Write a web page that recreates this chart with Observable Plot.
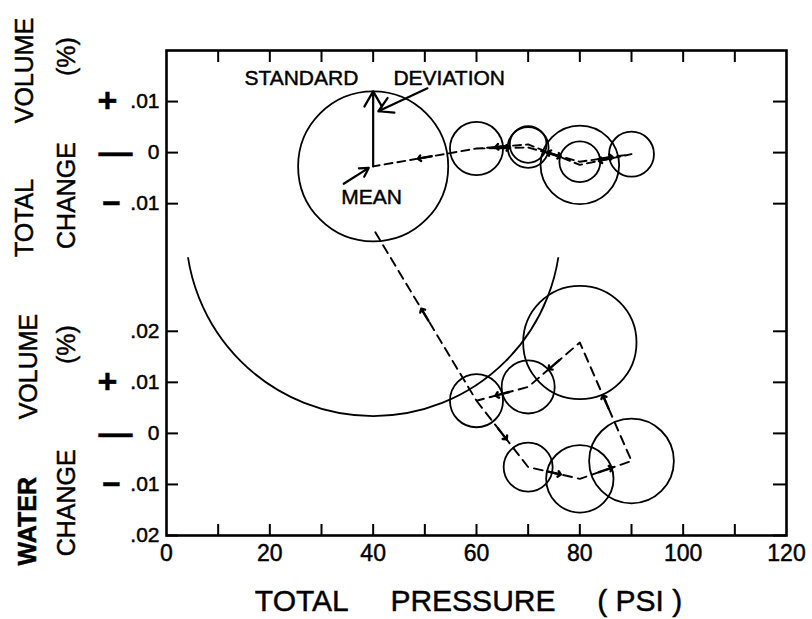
<!DOCTYPE html>
<html><head><meta charset="utf-8">
<script src="https://cdn.jsdelivr.net/npm/d3@7"></script>
<script src="https://cdn.jsdelivr.net/npm/@observablehq/plot@0.6"></script>
<style>
html,body{margin:0;padding:0;background:#fff;overflow:hidden;}
#chart svg{display:block;}
#chart svg text{stroke:#000;stroke-width:0.45px;}
</style></head><body><div id="chart"></div>
<script>
// ---------------- data ----------------
// one entry per measurement (circle); pressure in PSI
const pressure  = [40, 60, 70, 80, 90, 80, 70];
// total volume change (%) : mean and standard deviation
const totalMean = [-0.0027, 0.0008, 0.0016, -0.0024, -0.0003, -0.0018, 0.0010];
const totalSD   = [0.0147, 0.0052, 0.0036, 0.0077, 0.0044, 0.0040, 0.0040];
// water volume change (%) : mean and standard deviation
const waterMean = [0.0401, 0.0064, 0.0091, 0.0178, -0.0054, -0.0089, -0.0066];
const waterSD   = [0.0367, 0.0052, 0.0052, 0.0111, 0.0083, 0.0066, 0.0048];
// order in which the means are connected
const pathOrder = [1, 6, 5, 4, 3, 2, 1, 0];

const xTickLabels = [0, 20, 40, 60, 80, 100, 120];
const xTickMarks  = [10, 20, 30, 40, 50, 60, 70, 80, 90, 100, 110];
const totalTicks  = [0.01, 0, -0.01];
const waterTicks  = [0.02, 0.01, 0, -0.01, -0.02];
const signs       = ["+", "\u2014", "\u2212"];

// ---------------- layout ----------------
const W = 812, H = 619;
const M = {top: 50, right: 26, bottom: 84, left: 166};
const xDomain = [0, 120], yDomain = [-0.02, 0.075];
const totalOffset = 0.055;        // vertical position of the "total" panel on the shared y scale
const arcCut = 0.0345;            // the large water circle is drawn only below this level
const frameW = W - M.left - M.right, frameH = H - M.top - M.bottom;
const kx = frameW / (xDomain[1] - xDomain[0]);
const ky = frameH / (yDomain[1] - yDomain[0]);
const FONT = '"Liberation Sans", Arial, sans-serif';

const fmt = v => v === 0 ? "0" : "." + String(Math.round(Math.abs(v) * 100)).padStart(2, "0");
const yTickTable = [
  ...totalTicks.map(v => ({pos: v + totalOffset, label: fmt(v)})),
  ...waterTicks.map(v => ({pos: v, label: fmt(v)}))
];
const tickLabelOf = new Map(yTickTable.map(d => [d.pos, d.label]));

const totalPts = pressure.map((p, i) => ({x: p, y: totalMean[i] + totalOffset, sd: totalSD[i]}));
const waterPts = pressure.map((p, i) => ({x: p, y: waterMean[i], sd: waterSD[i]}));

function segments(pts) {
  const seq = pathOrder.map(i => pts[i]);
  const out = [];
  for (let k = 0; k < seq.length - 1; k++) {
    const a = seq[k], b = seq[k + 1];
    out.push({
      x: (a.x + b.x) / 2, y: (a.y + b.y) / 2,
      angle: Math.atan2((b.x - a.x) * kx, (b.y - a.y) * ky) * 180 / Math.PI
    });
  }
  return {seq, out};
}
const totalPath = segments(totalPts);
const waterPath = segments(waterPts);

// standard deviation arrow on the 40 PSI total-volume circle
const sdArrow = [{x: pressure[0], y1: totalPts[0].y, y2: totalPts[0].y + totalSD[0]}];

// annotations (total-panel units)
const notes = [
  {text: "STANDARD\u00A0\u00A0\u00A0\u00A0\u00A0\u00A0DEVIATION", x: 40.3, y: 0.0146 + totalOffset},
  {text: "MEAN", x: 39.7, y: -0.0088 + totalOffset}
];
const pointers = [
  {x1: 50.5, y1: 0.0126 + totalOffset, x2: 41.0, y2: 0.0081 + totalOffset},
  {x1: 34.3, y1: -0.0061 + totalOffset, x2: 39.15, y2: -0.0030 + totalOffset}
];

const signRows = (off) => [
  {t: signs[0], v: 0.01 + off}, {t: signs[1], v: 0 + off}, {t: signs[2], v: -0.01 + off}
];
const bothSigns = [...signRows(totalOffset), ...signRows(0)];

const ttl = (text, v, dx, bold) => Plot.text([text], {
  frameAnchor: "left", y: () => v, text: d => d, rotate: -90, dx,
  textAnchor: "middle", lineAnchor: "middle",
  fontSize: 25, fontWeight: bold ? "bold" : "normal", fill: "black"
});
const sign = (which, dx, fontSize) => Plot.text(bothSigns.filter(d => d.t === which), {
  frameAnchor: "left", y: "v", text: "t", dx, textAnchor: "middle", lineAnchor: "middle",
  fontSize, fontWeight: "bold", fill: "black"
});

const plot = Plot.plot({
  width: W, height: H,
  marginTop: M.top, marginRight: M.right, marginBottom: M.bottom, marginLeft: M.left,
  style: {fontFamily: FONT, background: "white", color: "black"},
  x: {domain: xDomain},
  y: {domain: yDomain},
  r: {type: "linear", domain: [0, 0.01], range: [0, 0.01 * ky]},
  marks: [
    Plot.frame({stroke: "black", strokeWidth: 2.6}),
    // inward tick marks on all four sides
    Plot.ruleX(xTickMarks, {x: d => d, insetBottom: frameH - 12, stroke: "black", strokeWidth: 2}),
    Plot.ruleX(xTickMarks, {x: d => d, insetTop: frameH - 11, stroke: "black", strokeWidth: 2}),
    Plot.ruleY(yTickTable, {y: "pos", insetRight: frameW - 12, stroke: "black", strokeWidth: 2}),
    Plot.ruleY(yTickTable, {y: "pos", insetLeft: frameW - 13, stroke: "black", strokeWidth: 2}),
    Plot.axisX(xTickLabels, {tickSize: 0, tickPadding: 9, fontSize: 23, label: null, tickFormat: d => String(d)}),
    Plot.axisY(yTickTable.map(d => d.pos), {tickSize: 0, tickPadding: 7, fontSize: 21, label: null,
      tickFormat: d => tickLabelOf.get(d)}),
    // x title
    Plot.text(["TOTAL\u00A0\u00A0\u00A0\u00A0\u00A0PRESSURE\u00A0\u00A0\u00A0\u00A0\u00A0( PSI )"], {
      frameAnchor: "bottom", text: d => d, dx: -8, dy: 66, lineAnchor: "middle", textAnchor: "middle",
      fontSize: 30, fill: "black"}),
    // y titles
    ttl("VOLUME", 0.0161 + totalOffset, -142, false),
    ttl("TOTAL", -0.0128 + totalOffset, -142, false),
    ttl("(%)", 0.0188 + totalOffset, -99.5, false),
    ttl("CHANGE", -0.0084 + totalOffset, -99.5, false),
    ttl("VOLUME", 0.0131, -137.5, false),
    ttl("WATER", -0.0172, -138.5, true),
    ttl("(%)", 0.0174, -99.5, false),
    ttl("CHANGE", -0.0136, -99.5, false),
    // sign markers
    sign(signs[0], -59, 34),
    sign(signs[1], -51, 34),
    sign(signs[2], -55, 32),
    // circles (mean +/- standard deviation)
    Plot.dot(totalPts, {x: "x", y: "y", r: "sd", stroke: "black", strokeWidth: 1.8, fill: "none"}),
    Plot.dot(waterPts.slice(1), {x: "x", y: "y", r: "sd", stroke: "black", strokeWidth: 1.8, fill: "none"}),
    Plot.dot(waterPts.slice(0, 1), {x: "x", y: "y", r: "sd", stroke: "black", strokeWidth: 1.8, fill: "none", ariaLabel: () => "bigarc"}),
    // dashed paths linking means
    Plot.line(totalPath.seq, {x: "x", y: "y", stroke: "black", strokeWidth: 1.9, strokeDasharray: "8,5"}),
    Plot.line(waterPath.seq, {x: "x", y: "y", stroke: "black", strokeWidth: 1.9, strokeDasharray: "9,6"}),
    Plot.vector([...totalPath.out, ...waterPath.out], {x: "x", y: "y", rotate: "angle", length: 14, anchor: "middle", stroke: "black", strokeWidth: 2.4}),
    // standard deviation arrow
    Plot.arrow(sdArrow, {x1: "x", x2: "x", y1: "y1", y2: "y2", stroke: "black", strokeWidth: 2.2, headLength: 12}),
    // annotation pointers and labels
    Plot.arrow(pointers, {x1: "x1", y1: "y1", x2: "x2", y2: "y2", stroke: "black", strokeWidth: 2.2, headLength: 11}),
    Plot.text(notes, {x: "x", y: "y", text: "text", fontSize: 21, fill: "black"})
  ]
});

// clip the very large water circle to its lower part
(function () {
  const ys = d3.scaleLinear().domain(yDomain).range([H - M.bottom, M.top]);
  const cutPx = ys(arcCut);
  const svg = d3.select(plot);
  const defs = svg.insert("defs", ":first-child");
  defs.append("clipPath").attr("id", "arc-clip").attr("clipPathUnits", "userSpaceOnUse")
    .append("rect").attr("x", -W).attr("y", cutPx).attr("width", 3 * W).attr("height", H - cutPx);
  const el = plot.querySelector('[aria-label="bigarc"]');
  if (el) {
    const g = el.tagName.toLowerCase() === "g" ? el : el.parentNode;
    g.setAttribute("clip-path", "url(#arc-clip)");
  }
})();

document.getElementById("chart").appendChild(plot);
</script>
</body></html>
